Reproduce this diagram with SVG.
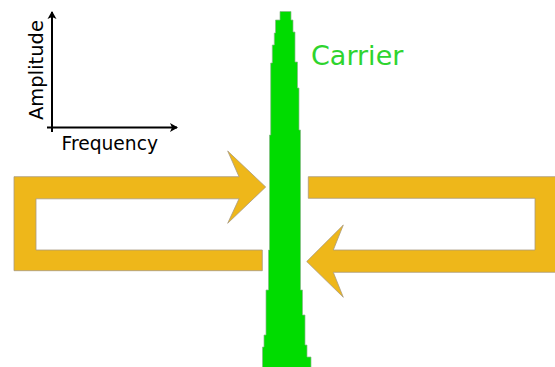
<svg xmlns="http://www.w3.org/2000/svg" width="555" height="367" viewBox="0 0 555 367">
<style>
.loop{fill:#eeb71a;stroke:#a89a80;stroke-width:0.8;stroke-linejoin:miter}
.axis{fill:none;stroke:#000;stroke-width:2}
.lbl{font-family:"DejaVu Sans",sans-serif;fill:#000}
</style>
<defs>
<marker id="ah" viewBox="-9 -5 11 10" markerWidth="11" markerHeight="10" refX="0" refY="0" orient="auto" markerUnits="userSpaceOnUse">
<path d="M1,0 L-7,-4.5 L-5,0 L-7,4.5 Z" fill="#000"/>
</marker>
</defs>
<rect width="555" height="367" fill="#fff"/>
<g id="axes">
<line class="axis" x1="52" y1="132" x2="52" y2="12" marker-end="url(#ah)"/>
<line class="axis" x1="47" y1="127.5" x2="177" y2="127.5" marker-end="url(#ah)"/>
<text class="lbl" x="61.5" y="150" font-size="18.7">Frequency</text>
<text class="lbl" font-size="19.5" transform="translate(43,120) rotate(-90)">Amplitude</text>
</g>
<g id="left-loop">
<polygon class="loop" points="14,176.7 239,176.7 227.7,151 265.7,187 227.7,223.3 239,198.8 36,198.8 36,250 262.3,250 262.3,270.7 14,270.7"/>
</g>
<g id="right-loop">
<polygon class="loop" points="308.3,176.7 557,176.7 557,272.3 333.3,272.3 343.3,297.3 306.7,261.5 343.3,225 333.3,250 535,250 535,198.3 308.3,198.3"/>
</g>
<g id="carrier">
<polygon fill="#00dc00" stroke="#8ab88a" stroke-width="0.7" points="280,11.5 291,11.5 291,20 293,20 293,32 295,32 295,62 297.5,62 297.5,88 299,88 299,130 300.5,130 300.5,290 302.5,290 302.5,315 305,315 305,345 307,345 307,357 311,357 311,368 262.5,368 262.5,347 264,347 264,335 266,335 266,290 268.5,290 268.5,250 269.5,250 269.5,135 270.7,135 270.7,63 272.3,63 272.3,45 274.3,45 274.3,33 275.5,33 275.5,20 277,20 277,20 280,20"/>
<text x="311" y="65" font-family="DejaVu Sans, sans-serif" font-size="27" fill="#2ed42e">Carrier</text>
</g>
</svg>
